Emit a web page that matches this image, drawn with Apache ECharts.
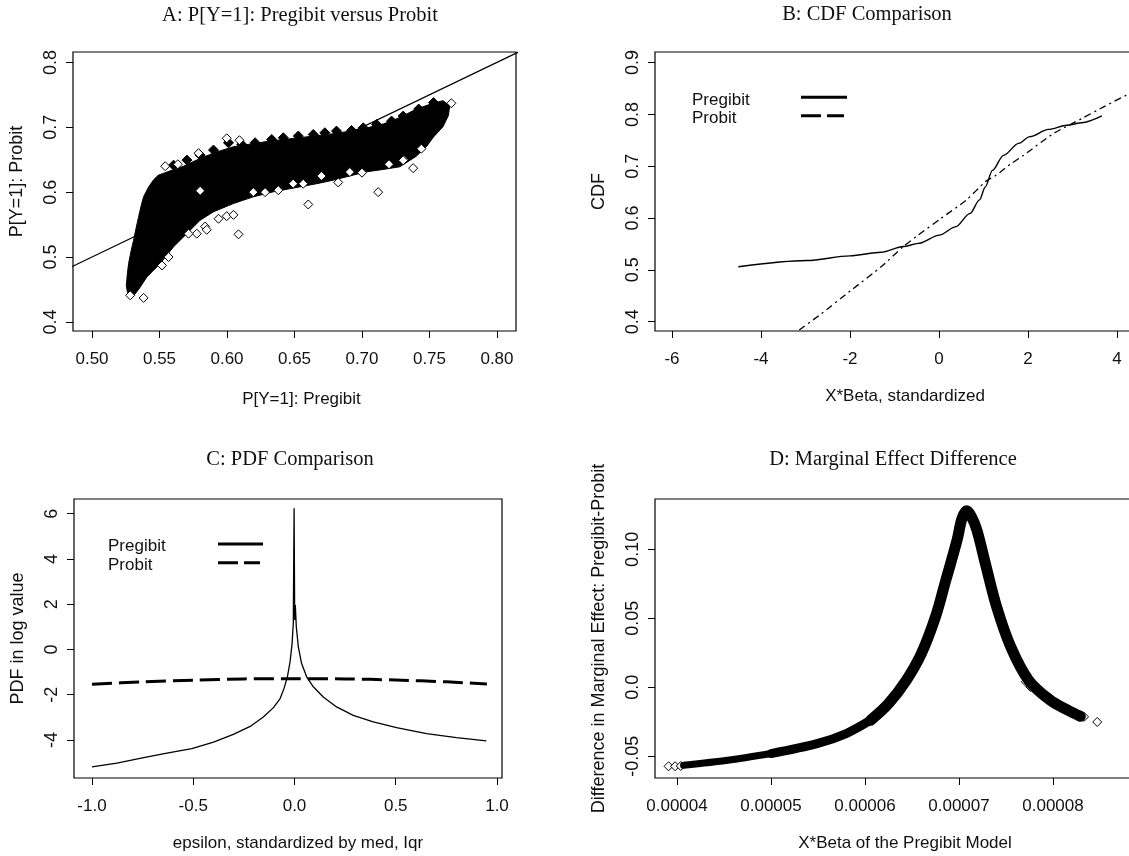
<!DOCTYPE html>
<html><head><meta charset="utf-8">
<script src="https://cdn.jsdelivr.net/npm/echarts@6/dist/echarts.min.js"></script>
<style>html,body{margin:0;padding:0;background:#fff;overflow:hidden;width:1129px;height:856px}#c{width:1160px;height:856px}</style>
</head><body><div id="c"></div>
<script>
// ---------- Panel A: P[Y=1] Pregibit vs Probit ----------
const titleA = 'A: P[Y=1]: Pregibit versus Probit';
const ticksAX = [0.50, 0.55, 0.60, 0.65, 0.70, 0.75, 0.80];
const labelsAX = ['0.50', '0.55', '0.60', '0.65', '0.70', '0.75', '0.80'];
const ticksAY = [0.4, 0.5, 0.6, 0.7, 0.8];
const labelsAY = ['0.4', '0.5', '0.6', '0.7', '0.8'];
// dense core of the cloud (outline of the solid black mass)
const cloudOutline = [
  [0.5290, 0.4380], [0.5262, 0.4460], [0.5254, 0.4560], [0.5262, 0.4750], [0.5271, 0.4900],
  [0.5290, 0.5100], [0.5308, 0.5260], [0.5327, 0.5450], [0.5345, 0.5620], [0.5365, 0.5800],
  [0.5382, 0.5930], [0.5419, 0.6080], [0.5456, 0.6190], [0.5490, 0.6260], [0.5555, 0.6310],
  [0.5678, 0.6400], [0.5801, 0.6520], [0.5924, 0.6620], [0.6048, 0.6700], [0.6170, 0.6740],
  [0.6294, 0.6780], [0.6417, 0.6810], [0.6540, 0.6840], [0.6664, 0.6870], [0.6787, 0.6900],
  [0.6910, 0.6940], [0.7034, 0.6990], [0.7157, 0.7050], [0.7280, 0.7150], [0.7403, 0.7280],
  [0.7526, 0.7370], [0.7600, 0.7410], [0.7650, 0.7330], [0.7640, 0.7180], [0.7600, 0.7008],
  [0.7530, 0.6850], [0.7477, 0.6700], [0.7400, 0.6550], [0.7280, 0.6391], [0.7157, 0.6350],
  [0.7034, 0.6314], [0.6910, 0.6250], [0.6787, 0.6185], [0.6664, 0.6130], [0.6540, 0.6082],
  [0.6343, 0.6005], [0.6195, 0.5928], [0.6048, 0.5825], [0.5900, 0.5697], [0.5801, 0.5568],
  [0.5703, 0.5362], [0.5604, 0.5157], [0.5505, 0.4900], [0.5407, 0.4694], [0.5345, 0.4500],
  [0.5310, 0.4410]
];
// diamonds forming the zig-zag upper edge of the cloud
const edgeDiamonds = [
  [0.5604, 0.6416], [0.5703, 0.6494], [0.5801, 0.6570], [0.5900, 0.6648], [0.6011, 0.6761],
  [0.6109, 0.6735], [0.6208, 0.6761], [0.6331, 0.6812], [0.6417, 0.6838], [0.6528, 0.6864],
  [0.6639, 0.6889], [0.6725, 0.6915], [0.6811, 0.6941], [0.6923, 0.6951], [0.7009, 0.6992],
  [0.7108, 0.7044], [0.7219, 0.7095], [0.7305, 0.7172], [0.7420, 0.7280], [0.7530, 0.7380]
];
// isolated open diamonds around the cloud
const outliers = [
  [0.5382, 0.4370], [0.5283, 0.4410], [0.5542, 0.6400], [0.5636, 0.6430], [0.5998, 0.6830],
  [0.6092, 0.6800], [0.5789, 0.6600], [0.7120, 0.6000], [0.6602, 0.5810], [0.6085, 0.5350],
  [0.6282, 0.6000], [0.6380, 0.6030], [0.6824, 0.6150], [0.6565, 0.6130], [0.7379, 0.6370],
  [0.7440, 0.6670], [0.7662, 0.7370], [0.7310, 0.6500], [0.5998, 0.5630], [0.6048, 0.5650],
  [0.5937, 0.5590], [0.5776, 0.5360], [0.5838, 0.5470], [0.5850, 0.5420], [0.5715, 0.5360],
  [0.5518, 0.4870], [0.5567, 0.5000], [0.6910, 0.6310], [0.7305, 0.6490], [0.6490, 0.6130],
  [0.6195, 0.6000], [0.5801, 0.6020], [0.6700, 0.6250], [0.7000, 0.6300], [0.7200, 0.6430]
];
const diagX = [0.48, 0.82];
const diagY = [0.48, 0.82];

// ---------- Panel B: CDF comparison ----------
const titleB = 'B: CDF Comparison';
const ticksBX = [-6, -4, -2, 0, 2, 4];
const labelsBX = ['-6', '-4', '-2', '0', '2', '4'];
const ticksBY = [0.4, 0.5, 0.6, 0.7, 0.8, 0.9];
const labelsBY = ['0.4', '0.5', '0.6', '0.7', '0.8', '0.9'];
const cdfPregibitX = [-4.51, -2.97, -2.00, -1.30, -0.80, -0.47, 0.01, 0.37, 0.70, 0.91, 1.04, 1.20, 1.45, 1.79, 2.04, 2.46, 2.87, 3.21, 3.66];
const cdfPregibitY = [0.506, 0.518, 0.527, 0.534, 0.545, 0.551, 0.567, 0.583, 0.609, 0.635, 0.660, 0.692, 0.721, 0.744, 0.757, 0.771, 0.779, 0.784, 0.797];
const cdfProbitX = [-3.14, -2.68, -1.97, -1.30, -0.80, -0.47, 0.04, 0.62, 1.04, 1.29, 1.62, 1.90, 2.57, 3.21, 3.71, 4.39];
const cdfProbitY = [0.384, 0.413, 0.461, 0.506, 0.545, 0.567, 0.599, 0.635, 0.670, 0.683, 0.705, 0.721, 0.763, 0.792, 0.815, 0.845];

// ---------- Panel C: PDF comparison ----------
const titleC = 'C: PDF Comparison';
const ticksCX = [-1.0, -0.5, 0.0, 0.5, 1.0];
const labelsCX = ['-1.0', '-0.5', '0.0', '0.5', '1.0'];
const ticksCY = [-4, -2, 0, 2, 4, 6];
const labelsCY = ['-4', '-2', '0', '2', '4', '6'];
const pdfPregibitX = [-1.0, -0.877, -0.745, -0.630, -0.507, -0.400, -0.302, -0.219, -0.154, -0.104, -0.071, -0.052, -0.035, -0.022, -0.012, -0.006, -0.002, 0.001, 0.004, 0.009, 0.019, 0.035, 0.060, 0.093, 0.142, 0.208, 0.290, 0.389, 0.504, 0.652, 0.800, 0.947];
const pdfPregibitY = [-5.19, -5.02, -4.78, -4.58, -4.38, -4.09, -3.75, -3.40, -2.98, -2.57, -2.17, -1.73, -1.21, -0.55, 0.26, 1.15, 6.24, 1.30, 1.96, 1.00, 0.11, -0.62, -1.21, -1.65, -2.10, -2.54, -2.91, -3.20, -3.45, -3.72, -3.90, -4.04];
const pdfProbitX = [-1.0, -0.75, -0.5, -0.25, 0.0, 0.25, 0.5, 0.75, 0.95];
const pdfProbitY = [-1.54, -1.43, -1.36, -1.30, -1.29, -1.30, -1.35, -1.43, -1.53];

// ---------- Panel D: marginal effect difference ----------
const titleD = 'D: Marginal Effect Difference';
const ticksDX = [0.00004, 0.00005, 0.00006, 0.00007, 0.00008];
const labelsDX = ['0.00004', '0.00005', '0.00006', '0.00007', '0.00008'];
const ticksDY = [-0.05, 0.0, 0.05, 0.10];
const labelsDY = ['-0.05', '0.0', '0.05', '0.10'];
const meTailX = [0.0000407, 0.0000454, 0.0000500];
const meTailY = [-0.0565, -0.0529, -0.0480];
const meMidX = [0.0000500, 0.0000549, 0.0000580, 0.0000606];
const meMidY = [-0.0480, -0.0408, -0.0335, -0.0238];
const meMainX = [0.0000606, 0.0000625, 0.0000644, 0.0000660, 0.0000675, 0.0000686, 0.0000698, 0.0000703, 0.0000708, 0.0000713, 0.0000719, 0.0000728, 0.0000740, 0.0000755, 0.0000774, 0.0000797, 0.0000816, 0.0000829];
const meMainY = [-0.0238, -0.0118, 0.0052, 0.0245, 0.0511, 0.0777, 0.1068, 0.1220, 0.1280, 0.1240, 0.1140, 0.0898, 0.0584, 0.0294, 0.0052, -0.0093, -0.0166, -0.0210];
const meStragglers = [
  [0.0000391, -0.0572], [0.0000398, -0.0572], [0.0000404, -0.0570],
  [0.0000833, -0.0214], [0.0000847, -0.0251], [0.0000771, 0.0040], [0.0000776, 0.0003]
];

// ---------- helpers ----------
const zip = (xs, ys) => xs.map((x, i) => [x, ys[i]]);
const SANS = '"Liberation Sans", Arial, sans-serif';
const SERIF = '"Liberation Serif", "Times New Roman", serif';
function fmt(ticks, labels) {
  return v => {
    let best = 0, d = Infinity;
    ticks.forEach((t, i) => { const e = Math.abs(t - v); if (e < d) { d = e; best = i; } });
    return labels[best];
  };
}
function xAxis(gi, min, max, ticks, labels, name, padLeft, gap) {
  return {
    type: 'value', gridIndex: gi, min, max, position: 'bottom',
    axisLine: { show: false, onZero: false },
    axisTick: { show: true, length: 7, lineStyle: { color: '#000', width: 1 }, customValues: ticks },
    axisLabel: { show: true, margin: 20, color: '#111', fontSize: 17, fontFamily: SANS, customValues: ticks, formatter: fmt(ticks, labels) },
    splitLine: { show: false },
    name, nameLocation: 'middle', nameGap: gap || 57,
    nameTextStyle: { color: '#111', fontSize: 17, fontFamily: SANS, padding: [0, 0, 0, padLeft || 0] }
  };
}
function yAxis(gi, min, max, ticks, labels, name, padLeft) {
  return {
    type: 'value', gridIndex: gi, min, max, position: 'left',
    axisLine: { show: false, onZero: false },
    axisTick: { show: true, length: 7, lineStyle: { color: '#000', width: 1 }, customValues: ticks },
    axisLabel: { show: true, rotate: 90, margin: 13, color: '#111', fontSize: 18, fontFamily: SANS, customValues: ticks, formatter: fmt(ticks, labels) },
    splitLine: { show: false },
    name, nameLocation: 'middle', nameGap: 47, nameRotate: 90,
    nameTextStyle: { color: '#111', fontSize: 18, fontFamily: SANS, padding: [0, 0, 0, padLeft || 0] }
  };
}
function gridBox(left, top, width, height) {
  return { left, top, width, height, show: true, borderColor: '#000', borderWidth: 1.2, backgroundColor: 'transparent', containLabel: false };
}
function lineS(ai, data, width, dash, extra) {
  return Object.assign({
    type: 'line', xAxisIndex: ai, yAxisIndex: ai, data, symbol: 'none', showSymbol: false,
    clip: true, silent: true, animation: false,
    lineStyle: { color: '#000', width, type: dash || 'solid' }
  }, extra || {});
}
function polyS(ai, pts, color) {
  return {
    type: 'custom', xAxisIndex: ai, yAxisIndex: ai, data: [pts[0]], silent: true, clip: true, animation: false,
    renderItem: (params, api) => ({
      type: 'polygon',
      shape: { points: pts.map(p => api.coord(p)) },
      style: { fill: color, stroke: color, lineWidth: 1 }
    })
  };
}
function scatterS(ai, data, fill, size) {
  return {
    type: 'scatter', xAxisIndex: ai, yAxisIndex: ai, data, symbol: 'diamond', symbolSize: size,
    silent: true, animation: false, clip: true,
    itemStyle: { color: fill, borderColor: '#000', borderWidth: 1, opacity: 1 }
  };
}
function txt(text, x, y, font, align) {
  return { type: 'text', x, y, silent: true, z: 100,
    style: { text, x: 0, y: 0, fill: '#111', font, align: align || 'left', verticalAlign: 'middle' } };
}
function seg(x1, x2, y, dash) {
  return { type: 'line', silent: true, z: 100, shape: { x1, y1: y, x2, y2: y },
    style: { stroke: '#000', lineWidth: 3, lineDash: dash || null } };
}

const chart = echarts.init(document.getElementById('c'), null, { renderer: 'canvas', width: 1160, height: 856 });
chart.setOption({
  animation: false,
  backgroundColor: '#fff',
  grid: [
    gridBox(73, 52, 443, 279),
    gridBox(655, 52, 500, 279),
    gridBox(74, 499, 428, 279),
    gridBox(655, 499, 500, 279)
  ],
  xAxis: [
    xAxis(0, 0.4859, 0.8141, ticksAX, labelsAX, 'P[Y=1]: Pregibit', 14, 60),
    xAxis(1, -6.382, 4.854, ticksBX, labelsBX, 'X*Beta, standardized', 0),
    xAxis(2, -1.0889, 1.0247, ticksCX, labelsCX, 'epsilon, standardized by med, Iqr', 20),
    xAxis(3, 0.00003766, 0.00009085, ticksDX, labelsDX, 'X*Beta of the Pregibit Model', 0)
  ],
  yAxis: [
    yAxis(0, 0.386, 0.816, ticksAY, labelsAY, 'P[Y=1]: Probit', 20),
    yAxis(1, 0.382, 0.9204, ticksBY, labelsBY, 'CDF', 0),
    yAxis(2, -5.68, 6.65, ticksCY, labelsCY, 'PDF in log value', 0),
    yAxis(3, -0.0657, 0.1365, ticksDY, labelsDY, 'Difference in Marginal Effect: Pregibit-Probit', 0)
  ],
  series: [
    // A
    lineS(0, zip(diagX, diagY), 1.2),
    polyS(0, cloudOutline, '#000'),
    scatterS(0, edgeDiamonds, '#000', 10),
    scatterS(0, outliers, '#fff', 9),
    // B
    lineS(1, zip(cdfPregibitX, cdfPregibitY), 1.4, 'solid', { smooth: 0.3, smoothMonotone: 'x' }),
    lineS(1, zip(cdfProbitX, cdfProbitY), 1.3, [7, 4, 2, 4], { smooth: 0.2 }),
    // C
    lineS(2, zip(pdfPregibitX, pdfPregibitY), 1.3),
    lineS(2, zip(pdfProbitX, pdfProbitY), 3, [20, 7], { smooth: 0.3 }),
    // D
    lineS(3, zip(meTailX, meTailY), 7, 'solid', { smooth: 0.3, lineStyle: { color: '#000', width: 7, cap: 'round', join: 'round' } }),
    lineS(3, zip(meMidX, meMidY), 9, 'solid', { smooth: 0.3, lineStyle: { color: '#000', width: 9, cap: 'round', join: 'round' } }),
    lineS(3, zip(meMainX, meMainY), 11, 'solid', { smooth: 0.35, lineStyle: { color: '#000', width: 11, cap: 'round', join: 'round' } }),
    scatterS(3, meStragglers, '#fff', 9)
  ],
  graphic: [
    txt(titleA, 300, 16, '20.5px ' + SERIF, 'center'),
    txt(titleB, 867, 15, '20.5px ' + SERIF, 'center'),
    txt(titleC, 290, 460, '20.5px ' + SERIF, 'center'),
    txt(titleD, 893, 460, '20.5px ' + SERIF, 'center'),
    // legend B
    txt('Pregibit', 692, 100, '17px ' + SANS),
    txt('Probit', 692, 118, '17px ' + SANS),
    seg(801, 847, 97.3),
    seg(801, 844, 115.7, [20, 6]),
    // legend C
    txt('Pregibit', 108, 546.5, '17px ' + SANS),
    txt('Probit', 108, 565, '17px ' + SANS),
    seg(218, 263, 544),
    seg(218, 260, 562.7, [20, 6])
  ]
});
</script></body></html>
